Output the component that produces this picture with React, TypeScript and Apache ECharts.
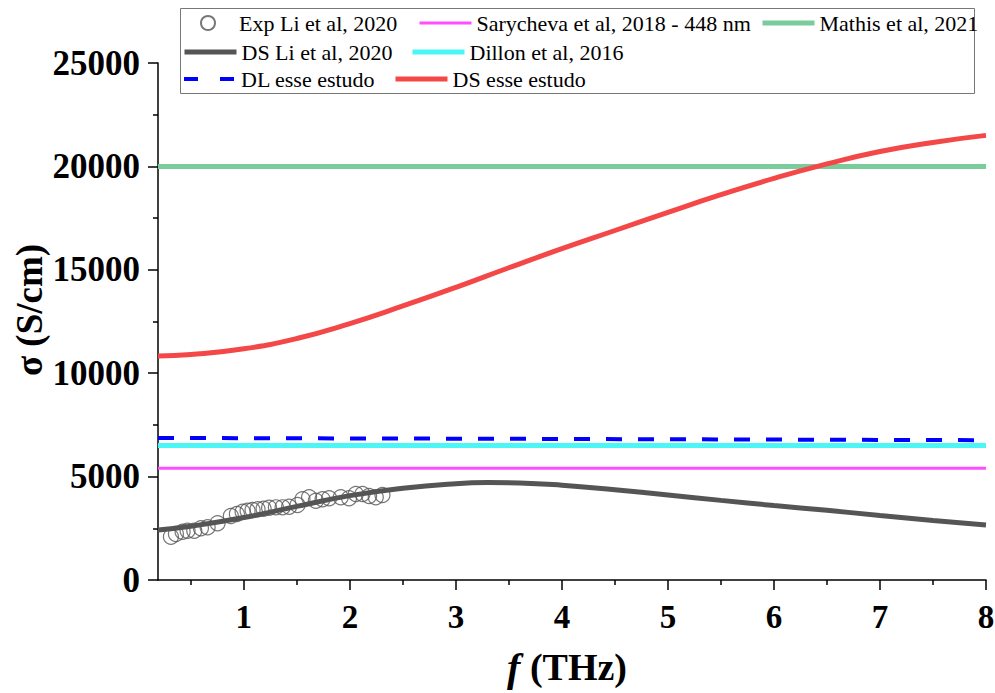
import React, { useEffect, useRef } from "react";
import * as echarts from "echarts";

const X_MIN = 0.19;
const X_MAX = 8;

const xTickValues = [1, 2, 3, 4, 5, 6, 7, 8];
const xMinorTickValues = [0.5, 1.5, 2.5, 3.5, 4.5, 5.5, 6.5, 7.5];

// Exp Li et al, 2020 (scatter)
const expX = [0.312, 0.359, 0.422, 0.469, 0.532, 0.595, 0.658, 0.752, 0.877, 0.934, 0.988, 1.035, 1.082, 1.129, 1.186, 1.238, 1.302, 1.365, 1.427, 1.506, 1.553, 1.615, 1.679, 1.742, 1.804, 1.914, 1.992, 2.056, 2.119, 2.181, 2.244, 2.307];
const expY = [2094, 2224, 2336, 2384, 2384, 2500, 2548, 2742, 3095, 3191, 3303, 3351, 3385, 3419, 3448, 3496, 3515, 3515, 3544, 3627, 3902, 3999, 3835, 3902, 3951, 3999, 3951, 4159, 4159, 4062, 3999, 4110];

// DS Li et al, 2020
const dsLiX = [0.19, 0.5, 1.0, 1.5, 2.0, 2.5, 3.0, 3.3, 3.6, 4.0, 4.5, 5.0, 5.5, 6.0, 6.5, 7.0, 7.5, 8.0];
const dsLiY = [2420, 2600, 3020, 3560, 4080, 4440, 4660, 4710, 4690, 4580, 4360, 4110, 3850, 3600, 3370, 3120, 2880, 2660];

// DS esse estudo
const dsEsseX = [0.19, 0.5, 1.0, 1.5, 2.0, 2.5, 3.0, 3.5, 4.0, 4.5, 5.0, 5.5, 6.0, 6.5, 7.0, 7.5, 8.0];
const dsEsseY = [10830, 10900, 11180, 11680, 12400, 13250, 14150, 15100, 16020, 16900, 17780, 18630, 19420, 20120, 20720, 21160, 21500];

// DL esse estudo
const dlEsseX = [0.19, 4.0, 8.0];
const dlEsseY = [6870, 6820, 6760];

const sarychevaValue = 5400;
const dillonValue = 6500;
const mathisValue = 20000;

const FONT = "Liberation Serif";

const NAMES = {
  exp: "Exp Li et al, 2020",
  sary: "Sarycheva et al, 2018 - 448 nm",
  mathis: "Mathis et al, 2021",
  dsLi: "DS Li et al, 2020",
  dillon: "Dillon et al, 2016",
  dl: "DL esse estudo",
  dsEsse: "DS esse estudo",
};

function zip(xs: number[], ys: number[]) {
  return xs.map((x, i) => [x, ys[i]]);
}

export default function App() {
  const ref = useRef<HTMLDivElement>(null);
  useEffect(() => {
    if (!ref.current) return;
    const chart = echarts.init(ref.current, null, { renderer: "svg" });
    const legendText = { fontFamily: FONT, fontSize: 22, color: "#000", fontWeight: "normal" };
    const legendCommon = {
      orient: "horizontal" as const,
      itemWidth: 52,
      itemHeight: 14,
      itemGap: 20,
      padding: 0,
      textStyle: legendText,
    };
    const lineLegend = (name: string, left: number, top: number, width: number, type: any = "solid") => ({
      ...legendCommon,
      left,
      top,
      data: [{ name, textStyle: legendText, itemStyle: { opacity: 0 }, lineStyle: { width, type } }],
    });
    chart.setOption({
      animation: false,
      backgroundColor: "#fff",
      grid: {
        left: 158,
        top: 63,
        width: 828,
        height: 517,
        outerBoundsMode: "none",
        containLabel: false,
      },
      legend: [
        { ...legendCommon, left: 200, top: 12, data: [{ name: NAMES.exp, textStyle: legendText }] },
        lineLegend(NAMES.sary, 418, 12, 3),
        lineLegend(NAMES.mathis, 760, 12, 5),
        lineLegend(NAMES.dsLi, 182, 41, 5),
        lineLegend(NAMES.dillon, 410, 41, 5),
        lineLegend(NAMES.dl, 182, 68, 4, [14, 22]),
        lineLegend(NAMES.dsEsse, 393, 68, 5),
      ],
      xAxis: [
        {
          type: "value",
          min: X_MIN,
          max: X_MAX,
          splitLine: { show: false },
          axisLine: { show: true, onZero: false, lineStyle: { color: "#000", width: 1.5 } },
          axisTick: { show: true, customValues: xTickValues, length: 10, lineStyle: { color: "#000", width: 1.5 } },
          axisLabel: {
            customValues: xTickValues,
            margin: 20,
            fontFamily: FONT,
            fontWeight: "bold",
            fontSize: 33,
            color: "#000",
          },
        },
        {
          type: "value",
          min: X_MIN,
          max: X_MAX,
          position: "bottom",
          splitLine: { show: false },
          axisLine: { show: false, onZero: false },
          axisTick: { show: true, customValues: xMinorTickValues, length: 5, lineStyle: { color: "#000", width: 1.5 } },
          axisLabel: { show: false },
        },
      ],
      yAxis: {
        type: "value",
        min: 0,
        max: 25000,
        interval: 5000,
        splitLine: { show: false },
        axisLine: { show: true, lineStyle: { color: "#000", width: 1.5 } },
        axisTick: { show: true, length: 10, lineStyle: { color: "#000", width: 1.5 } },
        minorTick: { show: true, splitNumber: 2, length: 5, lineStyle: { color: "#000", width: 1.5 } },
        axisLabel: {
          margin: 18,
          fontFamily: FONT,
          fontWeight: "bold",
          fontSize: 35,
          color: "#000",
          formatter: (v: number) => String(v),
        },
      },
      graphic: [
        {
          type: "rect",
          shape: { x: 180.5, y: 8.5, width: 794, height: 85 },
          style: { fill: "none", stroke: "#777", lineWidth: 1 },
          silent: true,
        },
        {
          type: "text",
          x: 29,
          y: 310,
          rotation: Math.PI / 2,
          style: {
            text: "σ (S/cm)",
            fontFamily: FONT,
            fontWeight: "bold",
            fontSize: 37,
            fill: "#000",
            align: "center",
            verticalAlign: "middle",
          },
        },
        {
          type: "text",
          x: 567,
          y: 667,
          style: {
            text: "{i|f}{b| (THz)}",
            align: "center",
            verticalAlign: "middle",
            rich: {
              i: { fontFamily: FONT, fontWeight: "bold", fontStyle: "italic", fontSize: 40, fill: "#000" },
              b: { fontFamily: FONT, fontWeight: "bold", fontSize: 38, fill: "#000" },
            },
          },
        },
      ],
      series: [
        {
          name: NAMES.sary,
          type: "line",
          data: [[X_MIN, sarychevaValue], [X_MAX, sarychevaValue]],
          symbol: "none",
          lineStyle: { color: "#ff4dff", width: 3 },
          itemStyle: { color: "#ff4dff" },
        },
        {
          name: NAMES.mathis,
          type: "line",
          data: [[X_MIN, mathisValue], [X_MAX, mathisValue]],
          symbol: "none",
          lineStyle: { color: "#7acc9c", width: 5 },
          itemStyle: { color: "#7acc9c" },
        },
        {
          name: NAMES.dillon,
          type: "line",
          data: [[X_MIN, dillonValue], [X_MAX, dillonValue]],
          symbol: "none",
          lineStyle: { color: "#4cf6f6", width: 5 },
          itemStyle: { color: "#4cf6f6" },
        },
        {
          name: NAMES.dl,
          type: "line",
          data: zip(dlEsseX, dlEsseY),
          symbol: "none",
          lineStyle: { color: "#0000ff", width: 4, type: [16, 16] },
          itemStyle: { color: "#0000ff" },
        },
        {
          name: NAMES.dsEsse,
          type: "line",
          data: zip(dsEsseX, dsEsseY),
          smooth: 0.5,
          symbol: "none",
          lineStyle: { color: "#f44848", width: 5 },
          itemStyle: { color: "#f44848" },
        },
        {
          name: NAMES.dsLi,
          type: "line",
          data: zip(dsLiX, dsLiY),
          smooth: 0.5,
          symbol: "none",
          lineStyle: { color: "#555555", width: 5 },
          itemStyle: { color: "#555555" },
        },
        {
          name: NAMES.exp,
          type: "scatter",
          data: zip(expX, expY),
          symbol: "circle",
          symbolSize: 15,
          itemStyle: { color: "rgba(255,255,255,0)", borderColor: "#555", borderWidth: 1.2 },
        },
      ],
    });
    return () => chart.dispose();
  }, []);
  return (
    <div
      ref={ref}
      style={{ position: "fixed", left: 0, top: 0, width: 995, height: 693, background: "#fff" }}
    />
  );
}
